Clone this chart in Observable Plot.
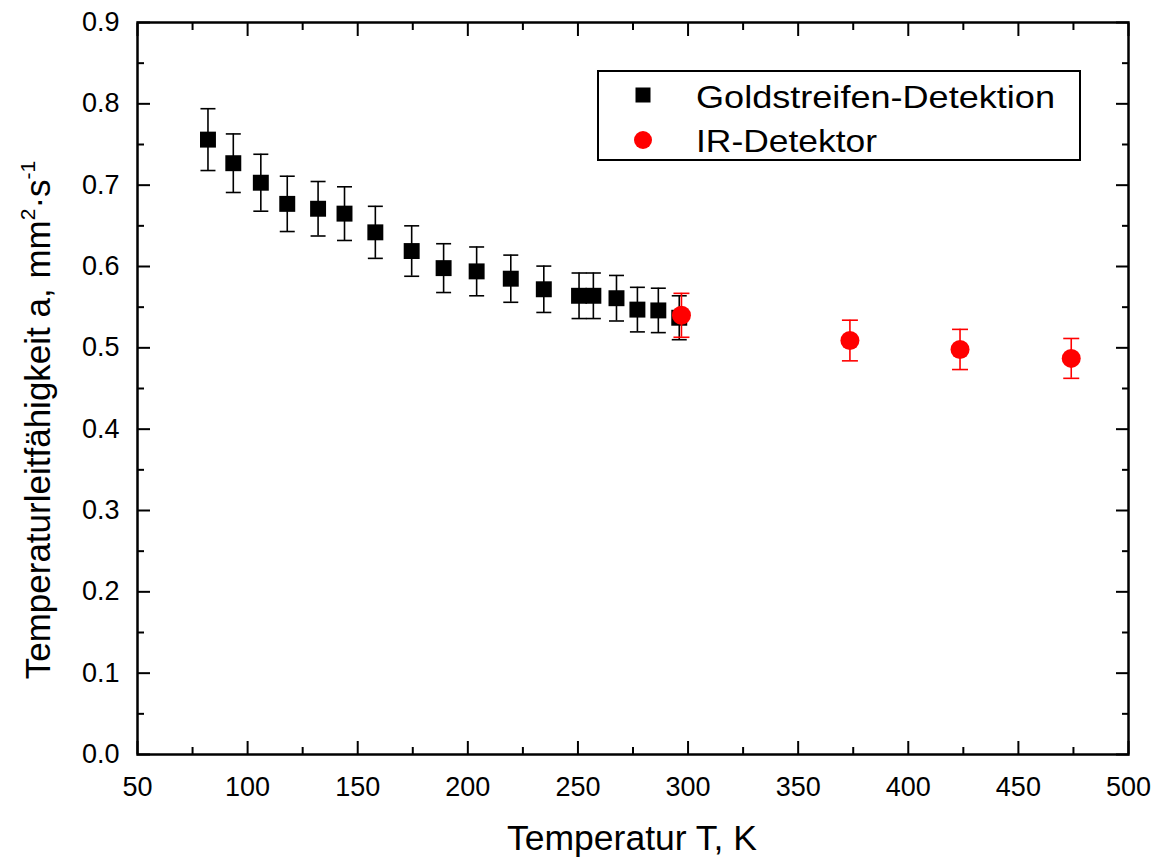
<!DOCTYPE html>
<html>
<head>
<meta charset="utf-8">
<script src="https://cdn.jsdelivr.net/npm/d3@7"></script>
<script src="https://cdn.jsdelivr.net/npm/@observablehq/plot@0.6"></script>
<style>
  body { margin: 0; background: #fff; font-family: "Liberation Sans", Arial, sans-serif; }
  #chart { width: 1157px; height: 860px; }
</style>
</head>
<body>
<div id="chart"></div>
<script>
// ---- data ----
const goldT   = [82, 93.5, 106, 118, 132, 144, 158, 174.5, 189, 204, 219.5, 234.5, 250.5, 257, 267.5, 277, 286.5, 296];
const goldA   = [0.756, 0.727, 0.703, 0.677, 0.671, 0.665, 0.642, 0.619, 0.598, 0.594, 0.585, 0.572, 0.564, 0.564, 0.561, 0.547, 0.546, 0.537];
const goldErr = [0.038, 0.036, 0.035, 0.034, 0.0335, 0.033, 0.032, 0.031, 0.030, 0.030, 0.029, 0.0285, 0.028, 0.028, 0.028, 0.0274, 0.0273, 0.027];
const irT     = [297, 373.5, 423.5, 474];
const irA     = [0.540, 0.509, 0.498, 0.487];
const irErr   = [0.027, 0.025, 0.0247, 0.0245];

const xMajor = [50, 100, 150, 200, 250, 300, 350, 400, 450, 500];
const xMinor = [75, 125, 175, 225, 275, 325, 375, 425, 475];
const yMajor = [0.0, 0.1, 0.2, 0.3, 0.4, 0.5, 0.6, 0.7, 0.8, 0.9];
const yMinor = [0.05, 0.15, 0.25, 0.35, 0.45, 0.55, 0.65, 0.75, 0.85];

const xTitle = "Temperatur T, K";
const yTitle = ["Temperaturleitfähigkeit a, mm", "2", "·s", "-1"];
const seriesNames = ["Goldstreifen-Detektion", "IR-Detektor"];

// ---- build tables ----
const gold = goldT.map((t, i) => ({t, a: goldA[i], e: goldErr[i]}));
const ir = irT.map((t, i) => ({t, a: irA[i], e: irErr[i]}));

const cap = {
  draw(ctx, size) {
    const w = Math.sqrt(size / Math.PI);
    ctx.moveTo(-w, 0);
    ctx.lineTo(w, 0);
  }
};
const blank = () => "";
const FONT = "'Liberation Sans', Arial, Helvetica, sans-serif";

const chart = Plot.plot({
  width: 1157,
  height: 860,
  marginLeft: 137,
  marginRight: 29,
  marginTop: 22,
  marginBottom: 106,
  style: {fontFamily: FONT, fontSize: "27px", color: "#000", background: "#fff", overflow: "visible"},
  x: {domain: [50, 500]},
  y: {domain: [0, 0.9]},
  marks: [
    // major / minor ticks, inward, on all four sides
    Plot.axisX({ticks: xMajor, anchor: "bottom", tickSize: -13, tickPadding: 35, tickFormat: d => String(d), label: null, strokeWidth: 2, fontSize: 27}),
    Plot.axisX({ticks: xMinor, anchor: "bottom", tickSize: -7, tickFormat: blank, label: null, strokeWidth: 2}),
    Plot.axisX({ticks: xMajor, anchor: "top", tickSize: -13, tickFormat: blank, label: null, strokeWidth: 2}),
    Plot.axisX({ticks: xMinor, anchor: "top", tickSize: -7, tickFormat: blank, label: null, strokeWidth: 2}),
    Plot.axisY({ticks: yMajor, anchor: "left", tickSize: -13, tickPadding: 31, tickFormat: d3.format(".1f"), label: null, strokeWidth: 2, fontSize: 27}),
    Plot.axisY({ticks: yMinor, anchor: "left", tickSize: -7, tickFormat: blank, label: null, strokeWidth: 2}),
    Plot.axisY({ticks: yMajor, anchor: "right", tickSize: -13, tickFormat: blank, label: null, strokeWidth: 2}),
    Plot.axisY({ticks: yMinor, anchor: "right", tickSize: -7, tickFormat: blank, label: null, strokeWidth: 2}),
    Plot.frame({stroke: "#000", strokeWidth: 2.5}),

    // Goldstreifen-Detektion
    Plot.ruleX(gold, {x: "t", y1: d => d.a - d.e, y2: d => d.a + d.e, stroke: "#000", strokeWidth: 1.6}),
    Plot.dot(gold, {x: "t", y: d => d.a + d.e, symbol: cap, r: 7.5, stroke: "#000", fill: "none", strokeWidth: 1.6}),
    Plot.dot(gold, {x: "t", y: d => d.a - d.e, symbol: cap, r: 7.5, stroke: "#000", fill: "none", strokeWidth: 1.6}),
    Plot.dot(gold, {x: "t", y: "a", symbol: "square", r: 9, fill: "#000", stroke: "none"}),

    // IR-Detektor
    Plot.ruleX(ir, {x: "t", y1: d => d.a - d.e, y2: d => d.a + d.e, stroke: "#ff0000", strokeWidth: 1.6}),
    Plot.dot(ir, {x: "t", y: d => d.a + d.e, symbol: cap, r: 8, stroke: "#ff0000", fill: "none", strokeWidth: 1.6}),
    Plot.dot(ir, {x: "t", y: d => d.a - d.e, symbol: cap, r: 8, stroke: "#ff0000", fill: "none", strokeWidth: 1.6}),
    Plot.dot(ir, {x: "t", y: "a", r: 9.5, fill: "#ff0000", stroke: "none"})
  ]
});

document.getElementById("chart").appendChild(chart);

// ---- titles and legend ----
const svg = d3.select(chart);

svg.append("text")
  .attr("x", 632).attr("y", 850)
  .attr("text-anchor", "middle")
  .attr("font-family", FONT).attr("font-size", 35.5).attr("fill", "#000")
  .text(xTitle);

const yt = svg.append("text")
  .attr("transform", "translate(50,420) rotate(-90)")
  .attr("text-anchor", "middle")
  .attr("font-family", FONT).attr("font-size", 35).attr("fill", "#000");
yt.append("tspan").text(yTitle[0]);
yt.append("tspan").attr("dy", -15).attr("font-size", 21).text(yTitle[1]);
yt.append("tspan").attr("dy", 15).text(yTitle[2]);
yt.append("tspan").attr("dy", -15).attr("font-size", 21).text(yTitle[3]);

const lg = svg.append("g");
lg.append("rect")
  .attr("x", 598).attr("y", 71).attr("width", 482).attr("height", 89)
  .attr("fill", "#fff").attr("stroke", "#000").attr("stroke-width", 2);
lg.append("rect")
  .attr("x", 635.5).attr("y", 87.5).attr("width", 15).attr("height", 15).attr("fill", "#000");
lg.append("circle")
  .attr("cx", 643).attr("cy", 140).attr("r", 9).attr("fill", "#ff0000");
lg.append("text")
  .attr("x", 696).attr("y", 107.5)
  .attr("text-anchor", "start")
  .attr("font-family", FONT).attr("font-size", 32).attr("fill", "#000")
  .attr("textLength", 359).attr("lengthAdjust", "spacingAndGlyphs")
  .text(seriesNames[0]);
lg.append("text")
  .attr("x", 696).attr("y", 151.5)
  .attr("text-anchor", "start")
  .attr("font-family", FONT).attr("font-size", 32).attr("fill", "#000")
  .attr("textLength", 181).attr("lengthAdjust", "spacingAndGlyphs")
  .text(seriesNames[1]);
</script>
</body>
</html>
